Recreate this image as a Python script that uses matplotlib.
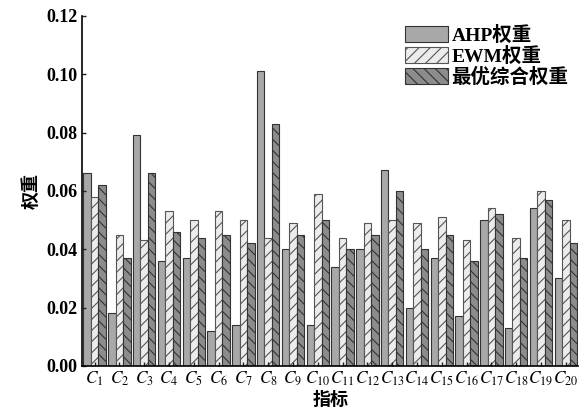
import numpy as np
import matplotlib
matplotlib.use('Agg')
from matplotlib import pyplot as plt

plt.rcParams['mathtext.fontset'] = 'stix'
plt.rcParams['hatch.linewidth'] = 0.8

labels = [r'$C_{%d}$' % i for i in range(1, 21)]
ahp = [0.066, 0.018, 0.079, 0.036, 0.037, 0.012, 0.014, 0.101, 0.040, 0.014,
       0.034, 0.040, 0.067, 0.020, 0.037, 0.017, 0.050, 0.013, 0.054, 0.030]
ewm = [0.058, 0.045, 0.043, 0.053, 0.050, 0.053, 0.050, 0.044, 0.049, 0.059,
       0.044, 0.049, 0.050, 0.049, 0.051, 0.043, 0.054, 0.044, 0.060, 0.050]
opt = [0.062, 0.037, 0.066, 0.046, 0.044, 0.045, 0.042, 0.083, 0.045, 0.050,
       0.040, 0.045, 0.060, 0.040, 0.045, 0.036, 0.052, 0.037, 0.057, 0.042]

cjk = ['Noto Sans CJK SC', 'DejaVu Sans']
serif = 'Liberation Serif'

fig = plt.figure(figsize=(5.87, 4.2), dpi=100)
ax = fig.add_axes([0.14, 0.129, 0.845, 0.833])

x = np.arange(len(labels))
w = 0.3
ax.bar(x - w, ahp, w, color='#a8a8a8', edgecolor='#333333', lw=0.8, label='AHP权重')
ax.bar(x, ewm, w, color='#ececec', edgecolor='#555555', lw=0.8, hatch='///', label='EWM权重')
ax.bar(x + w, opt, w, color='#8c8c8c', edgecolor='#333333', lw=0.8, hatch='\\\\\\', label='最优综合权重')

ax.set_xlim(-0.5, len(labels) - 0.5)
ax.set_ylim(0, 0.12)
ax.set_yticks(np.arange(0, 0.121, 0.02))
ax.set_yticklabels(['%.2f' % v for v in np.arange(0, 0.121, 0.02)],
                   fontfamily=serif, fontweight='bold', fontsize=13)
ax.set_xticks(x)
ax.set_xticklabels(labels, fontsize=12.5)
ax.tick_params(direction='in', length=3, width=1, color='#222222')
ax.tick_params(axis='x', pad=3)

for s in ['top', 'right']:
    ax.spines[s].set_visible(False)
for s in ['left', 'bottom']:
    ax.spines[s].set_linewidth(1.2)

ax.set_ylabel('权重', family=cjk, fontweight='bold', fontsize=13, labelpad=4)
ax.set_xlabel('指标', family=cjk, fontweight='bold', fontsize=13, labelpad=1)

leg = ax.legend(loc='upper right', frameon=False, prop={'family': ['Liberation Serif', 'Noto Sans CJK SC'],
                                                           'weight': 'bold', 'size': 14},
                handlelength=2.2, handleheight=0.9, handletextpad=0.2, labelspacing=0.1,
                borderaxespad=0.1, bbox_to_anchor=(1.0, 1.0))

fig.savefig('out.png', dpi=100)
